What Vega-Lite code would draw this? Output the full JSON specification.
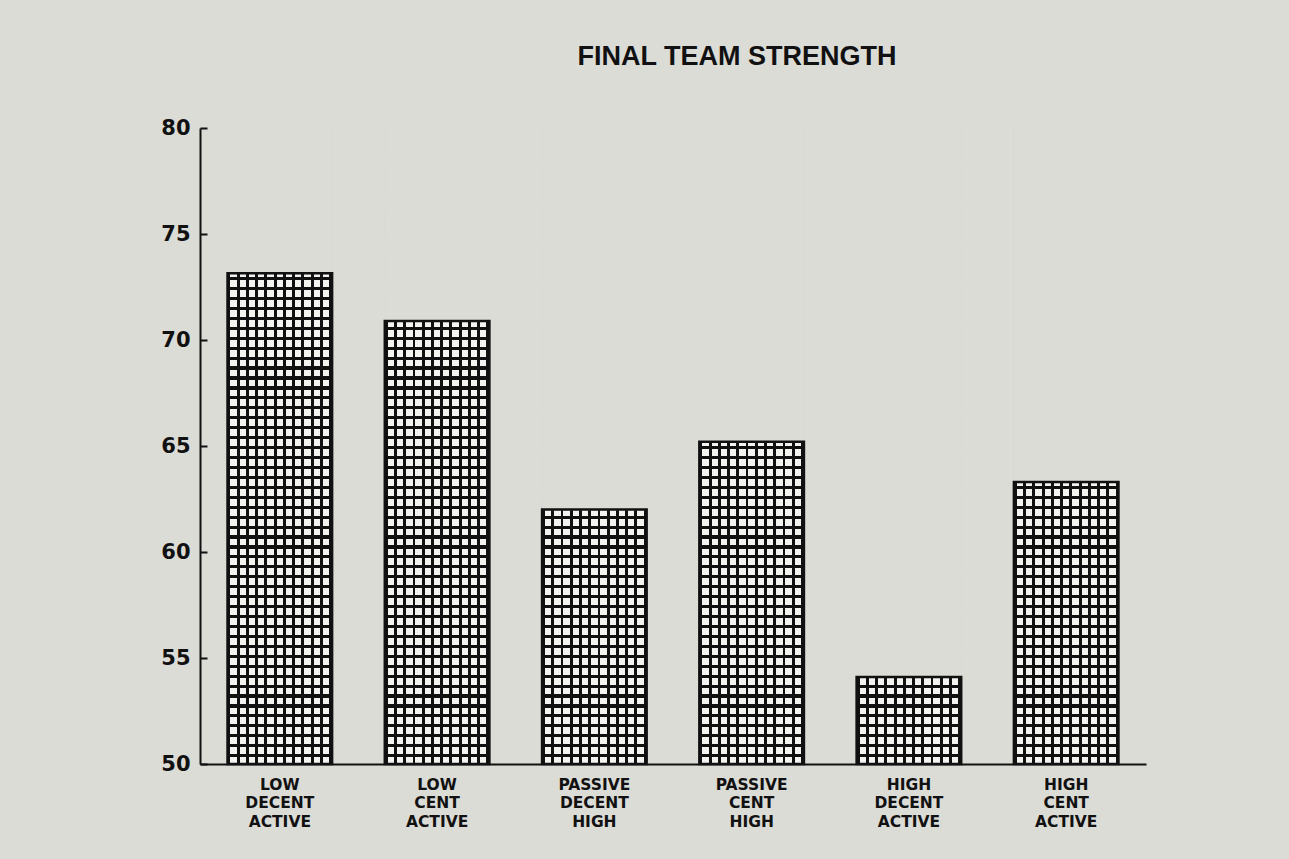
{
  "$schema": "https://vega.github.io/schema/vega-lite/v6.json",
  "width": 946,
  "height": 636,
  "autosize": {"type": "none"},
  "padding": {"left": 200, "top": 128, "right": 143, "bottom": 95},
  "background": "#dcdcd7",
  "title": {"text": "FINAL TEAM STRENGTH", "font": "Liberation Sans", "fontSize": 27, "fontWeight": "bold", "color": "#111111", "anchor": "middle", "dx": 64, "offset": 25, "baseline": "alphabetic"},
  "data": {"values": [
    {"condition": "LOW DECENT ACTIVE", "strength": 73.15},
    {"condition": "LOW CENT ACTIVE", "strength": 70.9},
    {"condition": "PASSIVE DECENT HIGH", "strength": 62.0},
    {"condition": "PASSIVE CENT HIGH", "strength": 65.2},
    {"condition": "HIGH DECENT ACTIVE", "strength": 54.1},
    {"condition": "HIGH CENT ACTIVE", "strength": 63.3}
  ]},
  "encoding": {
    "x": {"field": "condition", "type": "nominal", "sort": null, "title": null,
          "scale": {"paddingInner": 0.335, "paddingOuter": 0.175},
          "axis": {"labelExpr": "split(datum.label, ' ')"}}
  },
  "layer": [
    {
      "mark": {"type": "bar", "stroke": null, "fill": {"gradient": "linear", "x1": 0, "y1": 0, "x2": 0, "y2": 1, "stops": [
        {"offset": 0, "color": "#111111"}, {"offset": 0.005, "color": "#111111"}, {"offset": 0.005, "color": "#f3f3f0"}, {"offset": 0.015625, "color": "#f3f3f0"},
        {"offset": 0.015625, "color": "#111111"}, {"offset": 0.020625, "color": "#111111"}, {"offset": 0.020625, "color": "#f3f3f0"}, {"offset": 0.03125, "color": "#f3f3f0"},
        {"offset": 0.03125, "color": "#111111"}, {"offset": 0.03625, "color": "#111111"}, {"offset": 0.03625, "color": "#f3f3f0"}, {"offset": 0.046875, "color": "#f3f3f0"},
        {"offset": 0.046875, "color": "#111111"}, {"offset": 0.051875, "color": "#111111"}, {"offset": 0.051875, "color": "#f3f3f0"}, {"offset": 0.0625, "color": "#f3f3f0"},
        {"offset": 0.0625, "color": "#111111"}, {"offset": 0.0675, "color": "#111111"}, {"offset": 0.0675, "color": "#f3f3f0"}, {"offset": 0.078125, "color": "#f3f3f0"},
        {"offset": 0.078125, "color": "#111111"}, {"offset": 0.083125, "color": "#111111"}, {"offset": 0.083125, "color": "#f3f3f0"}, {"offset": 0.09375, "color": "#f3f3f0"},
        {"offset": 0.09375, "color": "#111111"}, {"offset": 0.09875, "color": "#111111"}, {"offset": 0.09875, "color": "#f3f3f0"}, {"offset": 0.109375, "color": "#f3f3f0"},
        {"offset": 0.109375, "color": "#111111"}, {"offset": 0.114375, "color": "#111111"}, {"offset": 0.114375, "color": "#f3f3f0"}, {"offset": 0.125, "color": "#f3f3f0"},
        {"offset": 0.125, "color": "#111111"}, {"offset": 0.13, "color": "#111111"}, {"offset": 0.13, "color": "#f3f3f0"}, {"offset": 0.140625, "color": "#f3f3f0"},
        {"offset": 0.140625, "color": "#111111"}, {"offset": 0.145625, "color": "#111111"}, {"offset": 0.145625, "color": "#f3f3f0"}, {"offset": 0.15625, "color": "#f3f3f0"},
        {"offset": 0.15625, "color": "#111111"}, {"offset": 0.16125, "color": "#111111"}, {"offset": 0.16125, "color": "#f3f3f0"}, {"offset": 0.171875, "color": "#f3f3f0"},
        {"offset": 0.171875, "color": "#111111"}, {"offset": 0.176875, "color": "#111111"}, {"offset": 0.176875, "color": "#f3f3f0"}, {"offset": 0.1875, "color": "#f3f3f0"},
        {"offset": 0.1875, "color": "#111111"}, {"offset": 0.1925, "color": "#111111"}, {"offset": 0.1925, "color": "#f3f3f0"}, {"offset": 0.203125, "color": "#f3f3f0"},
        {"offset": 0.203125, "color": "#111111"}, {"offset": 0.208125, "color": "#111111"}, {"offset": 0.208125, "color": "#f3f3f0"}, {"offset": 0.21875, "color": "#f3f3f0"},
        {"offset": 0.21875, "color": "#111111"}, {"offset": 0.22375, "color": "#111111"}, {"offset": 0.22375, "color": "#f3f3f0"}, {"offset": 0.234375, "color": "#f3f3f0"},
        {"offset": 0.234375, "color": "#111111"}, {"offset": 0.239375, "color": "#111111"}, {"offset": 0.239375, "color": "#f3f3f0"}, {"offset": 0.25, "color": "#f3f3f0"},
        {"offset": 0.25, "color": "#111111"}, {"offset": 0.255, "color": "#111111"}, {"offset": 0.255, "color": "#f3f3f0"}, {"offset": 0.265625, "color": "#f3f3f0"},
        {"offset": 0.265625, "color": "#111111"}, {"offset": 0.270625, "color": "#111111"}, {"offset": 0.270625, "color": "#f3f3f0"}, {"offset": 0.28125, "color": "#f3f3f0"},
        {"offset": 0.28125, "color": "#111111"}, {"offset": 0.28625, "color": "#111111"}, {"offset": 0.28625, "color": "#f3f3f0"}, {"offset": 0.296875, "color": "#f3f3f0"},
        {"offset": 0.296875, "color": "#111111"}, {"offset": 0.301875, "color": "#111111"}, {"offset": 0.301875, "color": "#f3f3f0"}, {"offset": 0.3125, "color": "#f3f3f0"},
        {"offset": 0.3125, "color": "#111111"}, {"offset": 0.3175, "color": "#111111"}, {"offset": 0.3175, "color": "#f3f3f0"}, {"offset": 0.328125, "color": "#f3f3f0"},
        {"offset": 0.328125, "color": "#111111"}, {"offset": 0.333125, "color": "#111111"}, {"offset": 0.333125, "color": "#f3f3f0"}, {"offset": 0.34375, "color": "#f3f3f0"},
        {"offset": 0.34375, "color": "#111111"}, {"offset": 0.34875, "color": "#111111"}, {"offset": 0.34875, "color": "#f3f3f0"}, {"offset": 0.359375, "color": "#f3f3f0"},
        {"offset": 0.359375, "color": "#111111"}, {"offset": 0.364375, "color": "#111111"}, {"offset": 0.364375, "color": "#f3f3f0"}, {"offset": 0.375, "color": "#f3f3f0"},
        {"offset": 0.375, "color": "#111111"}, {"offset": 0.38, "color": "#111111"}, {"offset": 0.38, "color": "#f3f3f0"}, {"offset": 0.390625, "color": "#f3f3f0"},
        {"offset": 0.390625, "color": "#111111"}, {"offset": 0.395625, "color": "#111111"}, {"offset": 0.395625, "color": "#f3f3f0"}, {"offset": 0.40625, "color": "#f3f3f0"},
        {"offset": 0.40625, "color": "#111111"}, {"offset": 0.41125, "color": "#111111"}, {"offset": 0.41125, "color": "#f3f3f0"}, {"offset": 0.421875, "color": "#f3f3f0"},
        {"offset": 0.421875, "color": "#111111"}, {"offset": 0.426875, "color": "#111111"}, {"offset": 0.426875, "color": "#f3f3f0"}, {"offset": 0.4375, "color": "#f3f3f0"},
        {"offset": 0.4375, "color": "#111111"}, {"offset": 0.4425, "color": "#111111"}, {"offset": 0.4425, "color": "#f3f3f0"}, {"offset": 0.453125, "color": "#f3f3f0"},
        {"offset": 0.453125, "color": "#111111"}, {"offset": 0.458125, "color": "#111111"}, {"offset": 0.458125, "color": "#f3f3f0"}, {"offset": 0.46875, "color": "#f3f3f0"},
        {"offset": 0.46875, "color": "#111111"}, {"offset": 0.47375, "color": "#111111"}, {"offset": 0.47375, "color": "#f3f3f0"}, {"offset": 0.484375, "color": "#f3f3f0"},
        {"offset": 0.484375, "color": "#111111"}, {"offset": 0.489375, "color": "#111111"}, {"offset": 0.489375, "color": "#f3f3f0"}, {"offset": 0.5, "color": "#f3f3f0"},
        {"offset": 0.5, "color": "#111111"}, {"offset": 0.505, "color": "#111111"}, {"offset": 0.505, "color": "#f3f3f0"}, {"offset": 0.515625, "color": "#f3f3f0"},
        {"offset": 0.515625, "color": "#111111"}, {"offset": 0.520625, "color": "#111111"}, {"offset": 0.520625, "color": "#f3f3f0"}, {"offset": 0.53125, "color": "#f3f3f0"},
        {"offset": 0.53125, "color": "#111111"}, {"offset": 0.53625, "color": "#111111"}, {"offset": 0.53625, "color": "#f3f3f0"}, {"offset": 0.546875, "color": "#f3f3f0"},
        {"offset": 0.546875, "color": "#111111"}, {"offset": 0.551875, "color": "#111111"}, {"offset": 0.551875, "color": "#f3f3f0"}, {"offset": 0.5625, "color": "#f3f3f0"},
        {"offset": 0.5625, "color": "#111111"}, {"offset": 0.5675, "color": "#111111"}, {"offset": 0.5675, "color": "#f3f3f0"}, {"offset": 0.578125, "color": "#f3f3f0"},
        {"offset": 0.578125, "color": "#111111"}, {"offset": 0.583125, "color": "#111111"}, {"offset": 0.583125, "color": "#f3f3f0"}, {"offset": 0.59375, "color": "#f3f3f0"},
        {"offset": 0.59375, "color": "#111111"}, {"offset": 0.59875, "color": "#111111"}, {"offset": 0.59875, "color": "#f3f3f0"}, {"offset": 0.609375, "color": "#f3f3f0"},
        {"offset": 0.609375, "color": "#111111"}, {"offset": 0.614375, "color": "#111111"}, {"offset": 0.614375, "color": "#f3f3f0"}, {"offset": 0.625, "color": "#f3f3f0"},
        {"offset": 0.625, "color": "#111111"}, {"offset": 0.63, "color": "#111111"}, {"offset": 0.63, "color": "#f3f3f0"}, {"offset": 0.640625, "color": "#f3f3f0"},
        {"offset": 0.640625, "color": "#111111"}, {"offset": 0.645625, "color": "#111111"}, {"offset": 0.645625, "color": "#f3f3f0"}, {"offset": 0.65625, "color": "#f3f3f0"},
        {"offset": 0.65625, "color": "#111111"}, {"offset": 0.66125, "color": "#111111"}, {"offset": 0.66125, "color": "#f3f3f0"}, {"offset": 0.671875, "color": "#f3f3f0"},
        {"offset": 0.671875, "color": "#111111"}, {"offset": 0.676875, "color": "#111111"}, {"offset": 0.676875, "color": "#f3f3f0"}, {"offset": 0.6875, "color": "#f3f3f0"},
        {"offset": 0.6875, "color": "#111111"}, {"offset": 0.6925, "color": "#111111"}, {"offset": 0.6925, "color": "#f3f3f0"}, {"offset": 0.703125, "color": "#f3f3f0"},
        {"offset": 0.703125, "color": "#111111"}, {"offset": 0.708125, "color": "#111111"}, {"offset": 0.708125, "color": "#f3f3f0"}, {"offset": 0.71875, "color": "#f3f3f0"},
        {"offset": 0.71875, "color": "#111111"}, {"offset": 0.72375, "color": "#111111"}, {"offset": 0.72375, "color": "#f3f3f0"}, {"offset": 0.734375, "color": "#f3f3f0"},
        {"offset": 0.734375, "color": "#111111"}, {"offset": 0.739375, "color": "#111111"}, {"offset": 0.739375, "color": "#f3f3f0"}, {"offset": 0.75, "color": "#f3f3f0"},
        {"offset": 0.75, "color": "#111111"}, {"offset": 0.755, "color": "#111111"}, {"offset": 0.755, "color": "#f3f3f0"}, {"offset": 0.765625, "color": "#f3f3f0"},
        {"offset": 0.765625, "color": "#111111"}, {"offset": 0.770625, "color": "#111111"}, {"offset": 0.770625, "color": "#f3f3f0"}, {"offset": 0.78125, "color": "#f3f3f0"},
        {"offset": 0.78125, "color": "#111111"}, {"offset": 0.78625, "color": "#111111"}, {"offset": 0.78625, "color": "#f3f3f0"}, {"offset": 0.796875, "color": "#f3f3f0"},
        {"offset": 0.796875, "color": "#111111"}, {"offset": 0.801875, "color": "#111111"}, {"offset": 0.801875, "color": "#f3f3f0"}, {"offset": 0.8125, "color": "#f3f3f0"},
        {"offset": 0.8125, "color": "#111111"}, {"offset": 0.8175, "color": "#111111"}, {"offset": 0.8175, "color": "#f3f3f0"}, {"offset": 0.828125, "color": "#f3f3f0"},
        {"offset": 0.828125, "color": "#111111"}, {"offset": 0.833125, "color": "#111111"}, {"offset": 0.833125, "color": "#f3f3f0"}, {"offset": 0.84375, "color": "#f3f3f0"},
        {"offset": 0.84375, "color": "#111111"}, {"offset": 0.84875, "color": "#111111"}, {"offset": 0.84875, "color": "#f3f3f0"}, {"offset": 0.859375, "color": "#f3f3f0"},
        {"offset": 0.859375, "color": "#111111"}, {"offset": 0.864375, "color": "#111111"}, {"offset": 0.864375, "color": "#f3f3f0"}, {"offset": 0.875, "color": "#f3f3f0"},
        {"offset": 0.875, "color": "#111111"}, {"offset": 0.88, "color": "#111111"}, {"offset": 0.88, "color": "#f3f3f0"}, {"offset": 0.890625, "color": "#f3f3f0"},
        {"offset": 0.890625, "color": "#111111"}, {"offset": 0.895625, "color": "#111111"}, {"offset": 0.895625, "color": "#f3f3f0"}, {"offset": 0.90625, "color": "#f3f3f0"},
        {"offset": 0.90625, "color": "#111111"}, {"offset": 0.91125, "color": "#111111"}, {"offset": 0.91125, "color": "#f3f3f0"}, {"offset": 0.921875, "color": "#f3f3f0"},
        {"offset": 0.921875, "color": "#111111"}, {"offset": 0.926875, "color": "#111111"}, {"offset": 0.926875, "color": "#f3f3f0"}, {"offset": 0.9375, "color": "#f3f3f0"},
        {"offset": 0.9375, "color": "#111111"}, {"offset": 0.9425, "color": "#111111"}, {"offset": 0.9425, "color": "#f3f3f0"}, {"offset": 0.953125, "color": "#f3f3f0"},
        {"offset": 0.953125, "color": "#111111"}, {"offset": 0.958125, "color": "#111111"}, {"offset": 0.958125, "color": "#f3f3f0"}, {"offset": 0.96875, "color": "#f3f3f0"},
        {"offset": 0.96875, "color": "#111111"}, {"offset": 0.97375, "color": "#111111"}, {"offset": 0.97375, "color": "#f3f3f0"}, {"offset": 0.984375, "color": "#f3f3f0"},
        {"offset": 0.984375, "color": "#111111"}, {"offset": 0.989375, "color": "#111111"}, {"offset": 0.989375, "color": "#f3f3f0"}, {"offset": 1, "color": "#f3f3f0"}
      ]}},
      "encoding": {
        "y": {"datum": 80, "type": "quantitative", "title": null, "scale": {"domain": [50, 80], "nice": false, "zero": false}, "axis": {"values": [50, 55, 60, 65, 70, 75, 80]}},
        "y2": {"datum": 50}
      }
    },
    {
      "mark": {"type": "bar", "stroke": null, "fill": {"gradient": "linear", "x1": 0, "y1": 0, "x2": 1, "y2": 0, "stops": [
        {"offset": 0, "color": "#111111"}, {"offset": 0.028, "color": "#111111"}, {"offset": 0.028, "color": "rgba(0,0,0,0)"}, {"offset": 0.0884, "color": "rgba(0,0,0,0)"},
        {"offset": 0.0884, "color": "#111111"}, {"offset": 0.1164, "color": "#111111"}, {"offset": 0.1164, "color": "rgba(0,0,0,0)"}, {"offset": 0.1767, "color": "rgba(0,0,0,0)"},
        {"offset": 0.1767, "color": "#111111"}, {"offset": 0.2047, "color": "#111111"}, {"offset": 0.2047, "color": "rgba(0,0,0,0)"}, {"offset": 0.2651, "color": "rgba(0,0,0,0)"},
        {"offset": 0.2651, "color": "#111111"}, {"offset": 0.2931, "color": "#111111"}, {"offset": 0.2931, "color": "rgba(0,0,0,0)"}, {"offset": 0.3535, "color": "rgba(0,0,0,0)"},
        {"offset": 0.3535, "color": "#111111"}, {"offset": 0.3815, "color": "#111111"}, {"offset": 0.3815, "color": "rgba(0,0,0,0)"}, {"offset": 0.4418, "color": "rgba(0,0,0,0)"},
        {"offset": 0.4418, "color": "#111111"}, {"offset": 0.4698, "color": "#111111"}, {"offset": 0.4698, "color": "rgba(0,0,0,0)"}, {"offset": 0.5302, "color": "rgba(0,0,0,0)"},
        {"offset": 0.5302, "color": "#111111"}, {"offset": 0.5582, "color": "#111111"}, {"offset": 0.5582, "color": "rgba(0,0,0,0)"}, {"offset": 0.6186, "color": "rgba(0,0,0,0)"},
        {"offset": 0.6186, "color": "#111111"}, {"offset": 0.6466, "color": "#111111"}, {"offset": 0.6466, "color": "rgba(0,0,0,0)"}, {"offset": 0.7069, "color": "rgba(0,0,0,0)"},
        {"offset": 0.7069, "color": "#111111"}, {"offset": 0.7349, "color": "#111111"}, {"offset": 0.7349, "color": "rgba(0,0,0,0)"}, {"offset": 0.7953, "color": "rgba(0,0,0,0)"},
        {"offset": 0.7953, "color": "#111111"}, {"offset": 0.8233, "color": "#111111"}, {"offset": 0.8233, "color": "rgba(0,0,0,0)"}, {"offset": 0.8836, "color": "rgba(0,0,0,0)"},
        {"offset": 0.8836, "color": "#111111"}, {"offset": 0.9116, "color": "#111111"}, {"offset": 0.9116, "color": "rgba(0,0,0,0)"}, {"offset": 0.972, "color": "rgba(0,0,0,0)"},
        {"offset": 0.972, "color": "#111111"}, {"offset": 1, "color": "#111111"}
      ]}},
      "encoding": {
        "y": {"datum": 80, "type": "quantitative", "title": null, "axis": {"values": [50, 55, 60, 65, 70, 75, 80]}},
        "y2": {"datum": 50}
      }
    },
    {
      "mark": {"type": "bar", "fill": "#dcdcd7", "stroke": "#dcdcd7", "strokeWidth": 1.5},
      "encoding": {
        "y": {"field": "strength", "type": "quantitative", "title": null, "axis": {"values": [50, 55, 60, 65, 70, 75, 80]}},
        "y2": {"datum": 80}
      }
    },
    {
      "mark": {"type": "bar", "fillOpacity": 0, "stroke": "#111111", "strokeWidth": 2.5},
      "encoding": {
        "y": {"field": "strength", "type": "quantitative", "title": null, "axis": {"values": [50, 55, 60, 65, 70, 75, 80]}},
        "y2": {"datum": 50}
      }
    }
  ],
  "config": {
    "view": {"stroke": null},
    "axisY": {"domainColor": "#111111", "domainWidth": 2, "tickColor": "#111111", "tickWidth": 2, "tickSize": -7, "labelPadding": 17, "labelFont": "DejaVu Sans", "labelFontWeight": "bold", "labelFontSize": 21, "labelColor": "#111111", "grid": false},
    "axisX": {"domainColor": "#111111", "domainWidth": 2, "ticks": false, "labelAngle": 0, "labelFont": "DejaVu Sans", "labelFontWeight": "bold", "labelFontSize": 15.5, "labelLineHeight": 18.5, "labelPadding": 13, "labelColor": "#111111", "labelBaseline": "top", "grid": false}
  }
}
